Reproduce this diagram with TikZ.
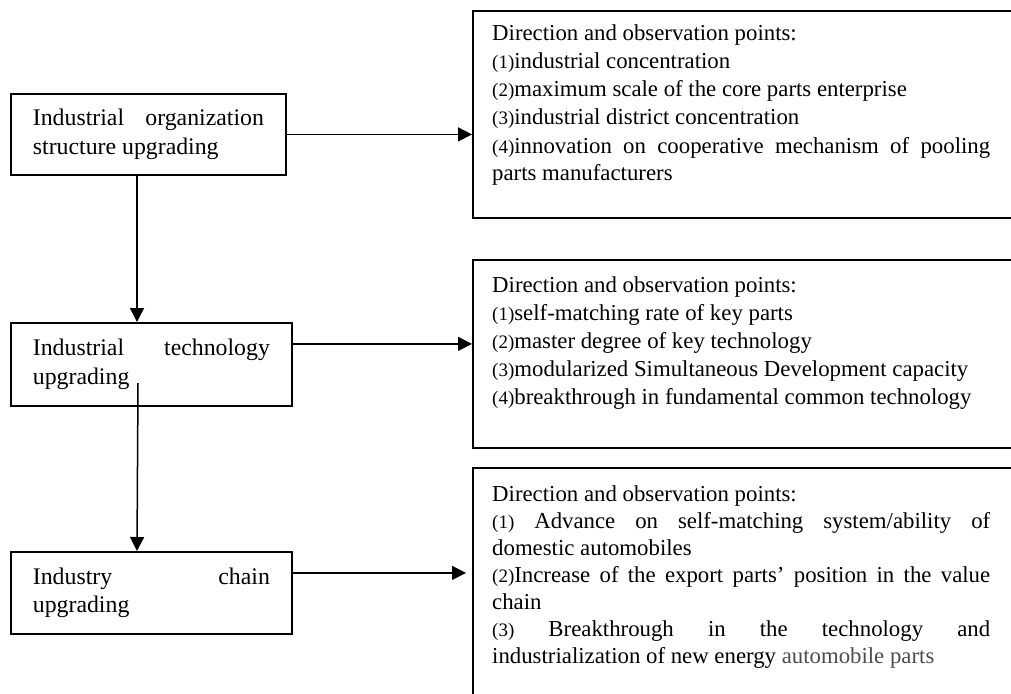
\documentclass[tikz,border=0pt]{standalone}
\usepackage{fontspec}
\setmainfont{Liberation Serif}
\usetikzlibrary{arrows.meta}
\hyphenpenalty=10000
\exhyphenpenalty=10000
\newcommand\pnum[1]{{\fontsize{19}{19}\selectfont(#1)}}
\begin{document}
\begin{tikzpicture}[x=1pt,y=-1pt,
  boxline/.style={draw, line width=1.8pt},
  lbox/.style={boxline, font=\fontsize{23.8}{28.5}\selectfont, align=justify, inner xsep=22pt, inner ysep=0pt, anchor=north west},
  rbox/.style={boxline, anchor=north west, minimum width=580pt, inner sep=0pt},
  rtext/.style={font=\fontsize{22.8}{28}\selectfont, text width=498pt, align=justify, inner sep=0pt, anchor=base west},
  arr/.style={line width=1.5pt, -{Triangle[length=14pt,width=14pt]}}]
\useasboundingbox (0,0) rectangle (1011,693);
\clip (0,0) rectangle (1011,693);

% left boxes
\node[lbox, text width=231pt, minimum width=275pt, minimum height=81pt] (b1) at (10,93) {Industrial organization\linebreak structure upgrading};
\node[lbox, text width=237pt, minimum width=281pt, minimum height=83pt] (b2) at (10,322) {Industrial technology\linebreak upgrading};
\node[lbox, text width=237pt, minimum width=281pt, minimum height=82pt] (b3) at (10,551) {Industry chain\linebreak upgrading};

% right boxes
\node[rbox, minimum height=207pt] (r1) at (472,10) {};
\node[rbox, minimum height=188pt] (r2) at (472,259) {};
\node[rbox, minimum height=260pt] (r3) at (472,467) {};

\node[rtext] (t1) at (492,41) {Direction and observation points:\\
\pnum{1}industrial concentration\\
\pnum{2}maximum scale of the core parts enterprise\\
\pnum{3}industrial district concentration\\
\pnum{4}innovation on cooperative mechanism of pooling\linebreak parts manufacturers};

\node[rtext] (t2) at (492,292) {Direction and observation points:\\
\pnum{1}self-matching rate of key parts\\
\pnum{2}master degree of key technology\\
\pnum{3}modularized Simultaneous Development capacity\\
\pnum{4}breakthrough in fundamental common technology};

\node[rtext, font=\fontsize{22.8}{27}\selectfont] (t3) at (492,501) {Direction and observation points:\\
\pnum{1} Advance on self-matching system/ability of\linebreak domestic automobiles\\
\pnum{2}Increase of the export parts’ position in the value\linebreak chain\\
\pnum{3} Breakthrough in the technology and\linebreak industrialization of new energy \textcolor{black!70}{automobile parts}};

% connectors
\coordinate (c1) at (137,0);
\coordinate (s2) at (138,383);
\coordinate (e2) at ([yshift=20.5pt]b2.east);
\coordinate (e3) at ([yshift=20pt]b3.east);
\draw[arr] (b1.south -| c1) -- (b2.north -| c1);
\draw[arr] (s2) -- (b3.north -| c1);
\draw[arr] (b1.east) -- (b1.east -| r1.west);
\draw[arr] (e2) -- (e2 -| r2.west);
\draw[arr, shorten >=6pt] (e3) -- (e3 -| r3.west);
\end{tikzpicture}
\end{document}
